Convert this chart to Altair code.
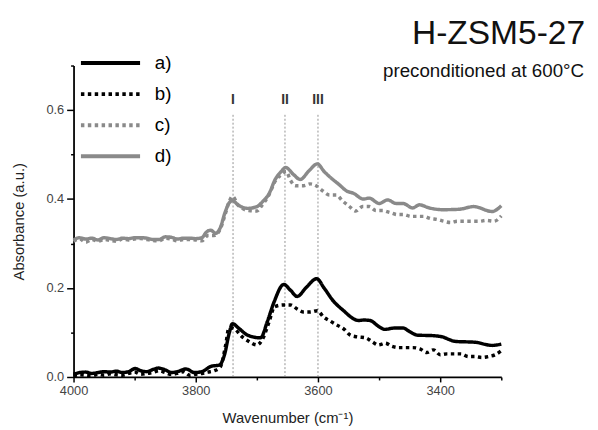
import altair as alt
import pandas as pd

# ---- data ----
series_names = ["a)", "b)", "c)", "d)"]
series_colors = ["#000000", "#000000", "#8a8a8a", "#8a8a8a"]

xa = [4000, 3990, 3980, 3970, 3960, 3950, 3940, 3930, 3920, 3910, 3899, 3890, 3880, 3870, 3861,
      3850, 3840, 3830, 3816, 3802, 3790, 3775, 3761, 3753, 3745, 3740, 3730, 3715, 3694, 3683,
      3672, 3656, 3645, 3634, 3620, 3602, 3590, 3575, 3558, 3542, 3534, 3525, 3515, 3500, 3491,
      3475, 3461, 3450, 3437, 3413, 3396, 3385, 3375, 3342, 3315, 3300]
ya = [0.006, 0.010, 0.011, 0.008, 0.010, 0.012, 0.011, 0.013, 0.010, 0.012, 0.019, 0.014, 0.012,
      0.017, 0.020, 0.016, 0.010, 0.012, 0.018, 0.010, 0.012, 0.024, 0.027, 0.050, 0.100, 0.120,
      0.110, 0.094, 0.088, 0.124, 0.168, 0.208, 0.195, 0.181, 0.200, 0.221, 0.200, 0.171, 0.149,
      0.131, 0.127, 0.128, 0.127, 0.113, 0.107, 0.110, 0.110, 0.102, 0.094, 0.093, 0.090, 0.084,
      0.080, 0.078, 0.071, 0.074]

xb = [4000, 3990, 3980, 3970, 3960, 3950, 3940, 3930, 3920, 3910, 3900, 3890, 3880, 3870, 3860,
      3850, 3840, 3830, 3820, 3810, 3800, 3790, 3780, 3770, 3760, 3751, 3746, 3740, 3723, 3713,
      3700, 3690, 3680, 3671, 3656, 3645, 3634, 3623, 3613, 3601, 3591, 3579, 3568, 3557, 3547,
      3535, 3522, 3512, 3501, 3490, 3479, 3468, 3456, 3445, 3433, 3422, 3411, 3400, 3389, 3378,
      3366, 3354, 3343, 3332, 3321, 3310, 3300]
yb = [0.002, 0.005, 0.004, 0.003, 0.006, 0.004, 0.007, 0.005, 0.004, 0.008, 0.011, 0.006, 0.008,
      0.010, 0.014, 0.010, 0.006, 0.008, 0.012, 0.004, 0.006, 0.008, 0.011, 0.014, 0.022, 0.072,
      0.109, 0.110, 0.089, 0.080, 0.072, 0.087, 0.124, 0.158, 0.162, 0.162, 0.153, 0.146, 0.146,
      0.149, 0.135, 0.125, 0.116, 0.107, 0.094, 0.090, 0.088, 0.080, 0.072, 0.076, 0.069, 0.066,
      0.066, 0.066, 0.063, 0.055, 0.061, 0.050, 0.052, 0.052, 0.052, 0.046, 0.046, 0.044, 0.046,
      0.050, 0.059]

xc = [4000, 3990, 3980, 3970, 3960, 3950, 3940, 3930, 3920, 3910, 3900, 3890, 3880, 3870, 3860,
      3850, 3840, 3830, 3820, 3810, 3800, 3790, 3780, 3770, 3760, 3752, 3745, 3740, 3730, 3713,
      3700, 3692, 3680, 3670, 3660, 3652, 3645, 3637, 3623, 3613, 3603, 3592, 3581, 3570, 3560,
      3550, 3538, 3527, 3516, 3505, 3494, 3483, 3470, 3459, 3448, 3437, 3427, 3416, 3405, 3394,
      3383, 3372, 3358, 3347, 3336, 3325, 3312, 3300]
yc = [0.305, 0.310, 0.303, 0.309, 0.305, 0.309, 0.307, 0.305, 0.310, 0.308, 0.310, 0.311, 0.309,
      0.307, 0.306, 0.312, 0.310, 0.306, 0.309, 0.309, 0.308, 0.306, 0.318, 0.318, 0.332, 0.365,
      0.395, 0.406, 0.385, 0.374, 0.373, 0.385, 0.410, 0.440, 0.455, 0.462, 0.442, 0.430, 0.430,
      0.434, 0.430, 0.418, 0.409, 0.409, 0.396, 0.385, 0.373, 0.383, 0.383, 0.374, 0.374, 0.370,
      0.365, 0.365, 0.361, 0.361, 0.361, 0.356, 0.354, 0.350, 0.347, 0.350, 0.350, 0.350, 0.350,
      0.352, 0.350, 0.362]

xd = [4000, 3990, 3980, 3970, 3960, 3950, 3940, 3930, 3920, 3910, 3900, 3890, 3880, 3870, 3860,
      3850, 3840, 3830, 3820, 3810, 3800, 3790, 3783, 3776, 3767, 3760, 3752, 3745, 3740, 3730,
      3715, 3700, 3690, 3680, 3670, 3660, 3653, 3640, 3629, 3615, 3601, 3590, 3580, 3565, 3553,
      3542, 3526, 3516, 3500, 3486, 3472, 3461, 3445, 3434, 3418, 3396, 3369, 3345, 3315, 3300]
yd = [0.308, 0.313, 0.310, 0.312, 0.308, 0.313, 0.311, 0.309, 0.312, 0.311, 0.313, 0.313, 0.312,
      0.309, 0.309, 0.315, 0.314, 0.310, 0.312, 0.312, 0.311, 0.313, 0.325, 0.330, 0.323, 0.335,
      0.370, 0.392, 0.396, 0.386, 0.379, 0.383, 0.395, 0.412, 0.444, 0.462, 0.471, 0.455, 0.444,
      0.463, 0.479, 0.462, 0.449, 0.432, 0.418, 0.413, 0.400, 0.402, 0.390, 0.398, 0.390, 0.390,
      0.380, 0.387, 0.380, 0.376, 0.377, 0.383, 0.372, 0.385]

band_pos = [3739, 3654, 3600]
band_labels = ["I", "II", "III"]

y_ticks = [0.0, 0.1, 0.2, 0.3, 0.4, 0.5, 0.6, 0.7]
x_ticks = [4000, 3900, 3800, 3700, 3600, 3500, 3400, 3300]

title_text = "H-ZSM5-27"
subtitle_text = "preconditioned at 600°C"

# ---- build tables ----
frames = []
for name, xs, ys in zip(series_names, [xa, xb, xc, xd], [ya, yb, yc, yd]):
    frames.append(pd.DataFrame({"wn": xs, "abs": ys, "series": name}))
df = pd.concat(frames, ignore_index=True)
bands = pd.DataFrame({"wn": band_pos, "label": band_labels})

FONT = "Liberation Sans"
W, H = 434, 316

xscale = alt.Scale(domain=[3300, 4000], reverse=True, nice=False, zero=False)
yscale = alt.Scale(domain=[0, 0.7], nice=False)

xaxis = alt.Axis(
    values=x_ticks,
    labelExpr="datum.value % 200 === 0 ? format(datum.value, 'd') : ''",
    tickSize={"condition": {"test": "datum.value % 200 !== 0", "value": 3}, "value": 5},
    labelPadding=3,
    labelFlush=False,
    titlePadding=13,
)
yaxis = alt.Axis(
    values=y_ticks,
    labelExpr="round(datum.value * 10) % 2 === 0 ? format(datum.value, '.1f') : ''",
    tickSize={"condition": {"test": "round(datum.value * 10) % 2 === 1", "value": 3}, "value": 7},
    labelPadding=3,
    labelFlush=False,
    titlePadding=20,
)

lines = alt.Chart(df).mark_line(strokeWidth=3.5, strokeJoin="round",
                                interpolate="monotone").encode(
    x=alt.X("wn:Q", scale=xscale, axis=xaxis, title="Wavenumber (cm⁻¹)"),
    y=alt.Y("abs:Q", scale=yscale, axis=yaxis, title="Absorbance (a.u.)"),
    color=alt.Color("series:N", scale=alt.Scale(domain=series_names, range=series_colors),
                    legend=alt.Legend(
                        title=None, orient="none", legendX=5.5, legendY=-17,
                        symbolType="stroke", symbolSize=3600, symbolStrokeWidth=4,
                        labelFontSize=19, labelFont=FONT, labelColor="#000000",
                        labelOffset=13, clipHeight=29, rowPadding=2.5, padding=0,
                    )),
    strokeDash=alt.StrokeDash("series:N",
                              scale=alt.Scale(domain=series_names,
                                              range=[[1, 0], [3.5, 3.5], [3.5, 3.5], [1, 0]]),
                              legend=None),
    order=alt.Order("series:N"),
)

band_rules = alt.Chart(bands).mark_rule(strokeDash=[2, 2], strokeWidth=0.8, color="#777777").encode(
    x=alt.X("wn:Q", scale=xscale),
    y=alt.value(50),
    y2=alt.value(H),
)
band_text = alt.Chart(bands).mark_text(font=FONT, fontSize=14, fontWeight="bold", color="#333333",
                                      baseline="middle").encode(
    x=alt.X("wn:Q", scale=xscale),
    y=alt.value(35),
    text="label:N",
)

title_df = pd.DataFrame({"t": [title_text]})
sub_df = pd.DataFrame({"t": [subtitle_text]})
title_mark = alt.Chart(title_df).mark_text(font=FONT, fontSize=34, color="#111111", align="right",
                                           baseline="alphabetic").encode(
    x=alt.value(519), y=alt.value(-22), text="t:N")
sub_mark = alt.Chart(sub_df).mark_text(font=FONT, fontSize=19, color="#111111", align="right",
                                       baseline="alphabetic").encode(
    x=alt.value(518), y=alt.value(12), text="t:N")

chart = alt.layer(band_rules, lines, band_text, title_mark, sub_mark).properties(
    width=W, height=H,
    autosize=alt.AutoSizeParams(type="none"),
    padding={"left": 66.5, "top": 55.3, "right": 90, "bottom": 51},
).configure_view(stroke=None).configure_axis(
    grid=False,
    domainColor="#000000", domainWidth=1.8,
    tickColor="#000000", tickWidth=1.5,
    labelFont=FONT, labelFontSize=13, labelColor="#444444",
    titleFont=FONT, titleFontSize=15, titleFontWeight="normal", titleColor="#222222",
)

chart.save("out.html", embed_options={"renderer": "svg", "actions": False})
